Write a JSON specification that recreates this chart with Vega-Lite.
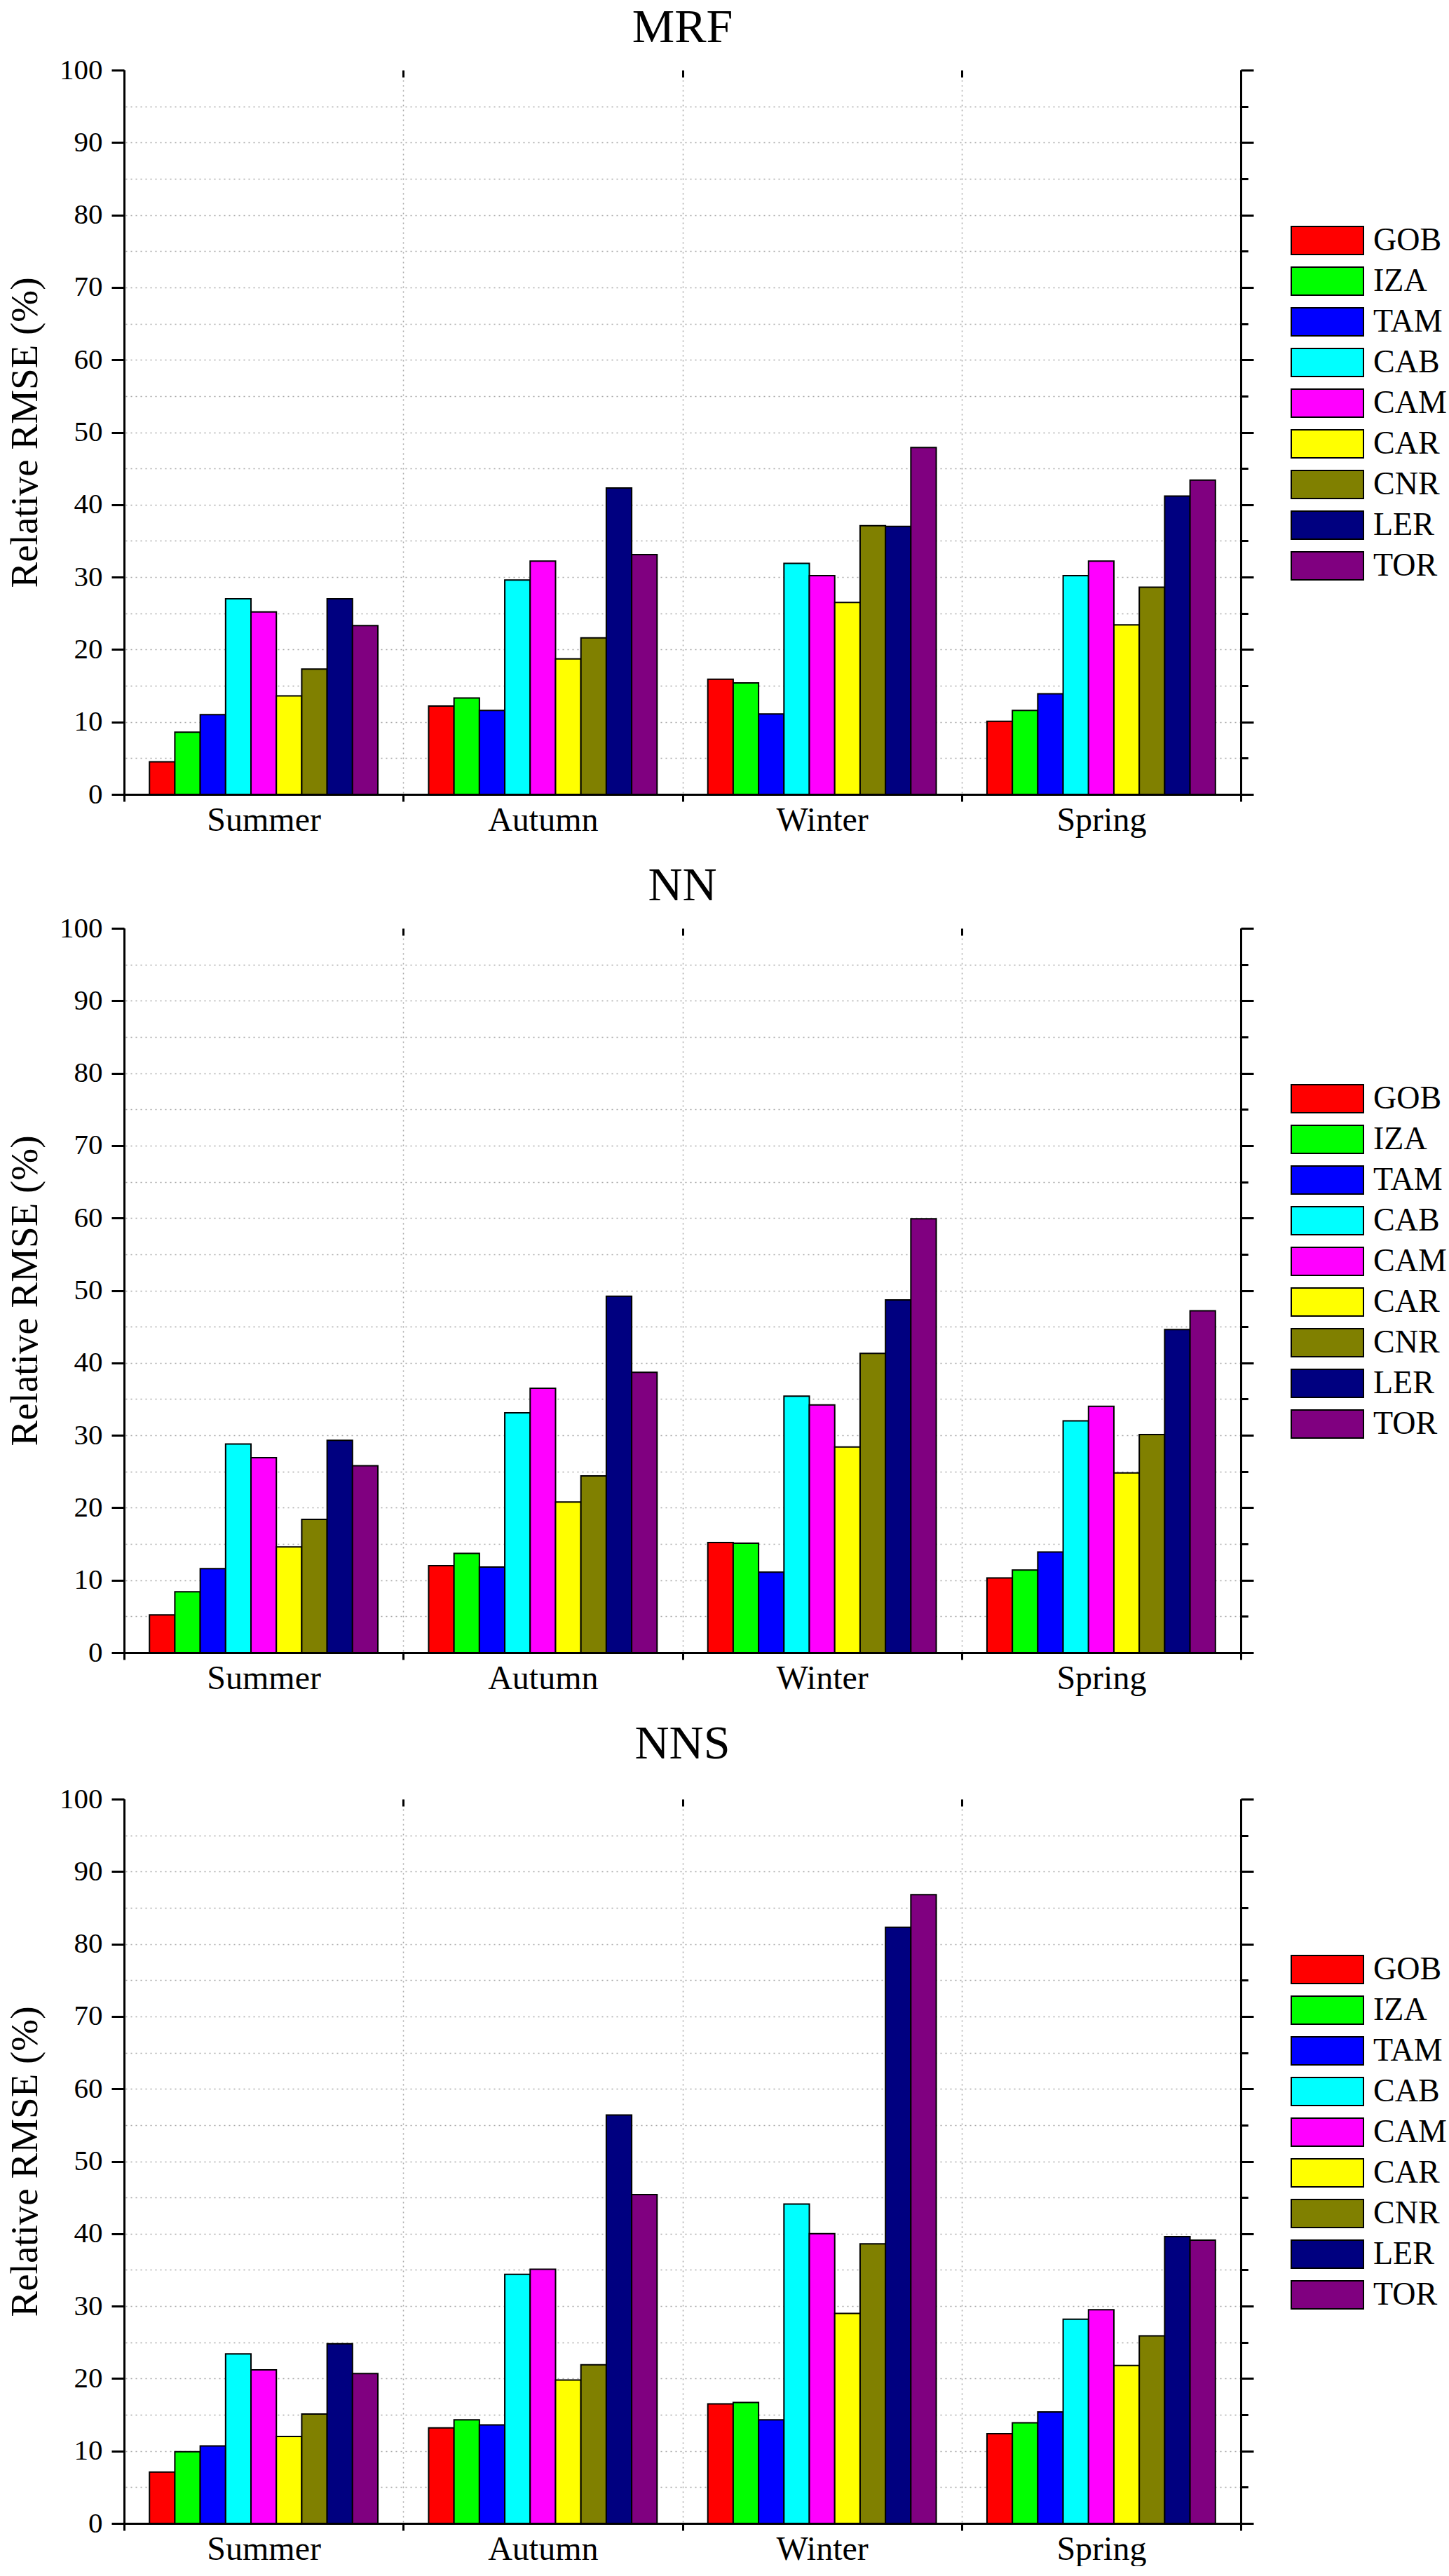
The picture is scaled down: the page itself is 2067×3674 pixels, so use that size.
{
  "$schema": "https://vega.github.io/schema/vega-lite/v6.json",
  "description": "Relative RMSE per station and season for the MRF, NN and NNS models.",
  "padding": {"left": 8, "top": 6, "right": 0, "bottom": 0},
  "background": "white",
  "data": {
    "values": [
      {"method": "MRF", "season": "Summer", "station": "GOB", "value": 4.5},
      {"method": "MRF", "season": "Summer", "station": "IZA", "value": 8.6},
      {"method": "MRF", "season": "Summer", "station": "TAM", "value": 11.0},
      {"method": "MRF", "season": "Summer", "station": "CAB", "value": 27.0},
      {"method": "MRF", "season": "Summer", "station": "CAM", "value": 25.2},
      {"method": "MRF", "season": "Summer", "station": "CAR", "value": 13.6},
      {"method": "MRF", "season": "Summer", "station": "CNR", "value": 17.3},
      {"method": "MRF", "season": "Summer", "station": "LER", "value": 27.0},
      {"method": "MRF", "season": "Summer", "station": "TOR", "value": 23.3},
      {"method": "MRF", "season": "Autumn", "station": "GOB", "value": 12.2},
      {"method": "MRF", "season": "Autumn", "station": "IZA", "value": 13.3},
      {"method": "MRF", "season": "Autumn", "station": "TAM", "value": 11.6},
      {"method": "MRF", "season": "Autumn", "station": "CAB", "value": 29.6},
      {"method": "MRF", "season": "Autumn", "station": "CAM", "value": 32.2},
      {"method": "MRF", "season": "Autumn", "station": "CAR", "value": 18.7},
      {"method": "MRF", "season": "Autumn", "station": "CNR", "value": 21.6},
      {"method": "MRF", "season": "Autumn", "station": "LER", "value": 42.3},
      {"method": "MRF", "season": "Autumn", "station": "TOR", "value": 33.1},
      {"method": "MRF", "season": "Winter", "station": "GOB", "value": 15.9},
      {"method": "MRF", "season": "Winter", "station": "IZA", "value": 15.4},
      {"method": "MRF", "season": "Winter", "station": "TAM", "value": 11.1},
      {"method": "MRF", "season": "Winter", "station": "CAB", "value": 31.9},
      {"method": "MRF", "season": "Winter", "station": "CAM", "value": 30.2},
      {"method": "MRF", "season": "Winter", "station": "CAR", "value": 26.5},
      {"method": "MRF", "season": "Winter", "station": "CNR", "value": 37.1},
      {"method": "MRF", "season": "Winter", "station": "LER", "value": 37.0},
      {"method": "MRF", "season": "Winter", "station": "TOR", "value": 47.9},
      {"method": "MRF", "season": "Spring", "station": "GOB", "value": 10.1},
      {"method": "MRF", "season": "Spring", "station": "IZA", "value": 11.6},
      {"method": "MRF", "season": "Spring", "station": "TAM", "value": 13.9},
      {"method": "MRF", "season": "Spring", "station": "CAB", "value": 30.2},
      {"method": "MRF", "season": "Spring", "station": "CAM", "value": 32.2},
      {"method": "MRF", "season": "Spring", "station": "CAR", "value": 23.4},
      {"method": "MRF", "season": "Spring", "station": "CNR", "value": 28.6},
      {"method": "MRF", "season": "Spring", "station": "LER", "value": 41.2},
      {"method": "MRF", "season": "Spring", "station": "TOR", "value": 43.4},
      {"method": "NN", "season": "Summer", "station": "GOB", "value": 5.2},
      {"method": "NN", "season": "Summer", "station": "IZA", "value": 8.4},
      {"method": "NN", "season": "Summer", "station": "TAM", "value": 11.6},
      {"method": "NN", "season": "Summer", "station": "CAB", "value": 28.8},
      {"method": "NN", "season": "Summer", "station": "CAM", "value": 26.9},
      {"method": "NN", "season": "Summer", "station": "CAR", "value": 14.6},
      {"method": "NN", "season": "Summer", "station": "CNR", "value": 18.4},
      {"method": "NN", "season": "Summer", "station": "LER", "value": 29.3},
      {"method": "NN", "season": "Summer", "station": "TOR", "value": 25.8},
      {"method": "NN", "season": "Autumn", "station": "GOB", "value": 12.0},
      {"method": "NN", "season": "Autumn", "station": "IZA", "value": 13.7},
      {"method": "NN", "season": "Autumn", "station": "TAM", "value": 11.8},
      {"method": "NN", "season": "Autumn", "station": "CAB", "value": 33.1},
      {"method": "NN", "season": "Autumn", "station": "CAM", "value": 36.5},
      {"method": "NN", "season": "Autumn", "station": "CAR", "value": 20.8},
      {"method": "NN", "season": "Autumn", "station": "CNR", "value": 24.4},
      {"method": "NN", "season": "Autumn", "station": "LER", "value": 49.2},
      {"method": "NN", "season": "Autumn", "station": "TOR", "value": 38.7},
      {"method": "NN", "season": "Winter", "station": "GOB", "value": 15.2},
      {"method": "NN", "season": "Winter", "station": "IZA", "value": 15.1},
      {"method": "NN", "season": "Winter", "station": "TAM", "value": 11.1},
      {"method": "NN", "season": "Winter", "station": "CAB", "value": 35.4},
      {"method": "NN", "season": "Winter", "station": "CAM", "value": 34.2},
      {"method": "NN", "season": "Winter", "station": "CAR", "value": 28.4},
      {"method": "NN", "season": "Winter", "station": "CNR", "value": 41.3},
      {"method": "NN", "season": "Winter", "station": "LER", "value": 48.7},
      {"method": "NN", "season": "Winter", "station": "TOR", "value": 59.9},
      {"method": "NN", "season": "Spring", "station": "GOB", "value": 10.3},
      {"method": "NN", "season": "Spring", "station": "IZA", "value": 11.4},
      {"method": "NN", "season": "Spring", "station": "TAM", "value": 13.9},
      {"method": "NN", "season": "Spring", "station": "CAB", "value": 32.0},
      {"method": "NN", "season": "Spring", "station": "CAM", "value": 34.0},
      {"method": "NN", "season": "Spring", "station": "CAR", "value": 24.8},
      {"method": "NN", "season": "Spring", "station": "CNR", "value": 30.1},
      {"method": "NN", "season": "Spring", "station": "LER", "value": 44.6},
      {"method": "NN", "season": "Spring", "station": "TOR", "value": 47.2},
      {"method": "NNS", "season": "Summer", "station": "GOB", "value": 7.1},
      {"method": "NNS", "season": "Summer", "station": "IZA", "value": 9.9},
      {"method": "NNS", "season": "Summer", "station": "TAM", "value": 10.7},
      {"method": "NNS", "season": "Summer", "station": "CAB", "value": 23.4},
      {"method": "NNS", "season": "Summer", "station": "CAM", "value": 21.2},
      {"method": "NNS", "season": "Summer", "station": "CAR", "value": 12.0},
      {"method": "NNS", "season": "Summer", "station": "CNR", "value": 15.1},
      {"method": "NNS", "season": "Summer", "station": "LER", "value": 24.8},
      {"method": "NNS", "season": "Summer", "station": "TOR", "value": 20.7},
      {"method": "NNS", "season": "Autumn", "station": "GOB", "value": 13.2},
      {"method": "NNS", "season": "Autumn", "station": "IZA", "value": 14.3},
      {"method": "NNS", "season": "Autumn", "station": "TAM", "value": 13.6},
      {"method": "NNS", "season": "Autumn", "station": "CAB", "value": 34.4},
      {"method": "NNS", "season": "Autumn", "station": "CAM", "value": 35.1},
      {"method": "NNS", "season": "Autumn", "station": "CAR", "value": 19.8},
      {"method": "NNS", "season": "Autumn", "station": "CNR", "value": 21.9},
      {"method": "NNS", "season": "Autumn", "station": "LER", "value": 56.4},
      {"method": "NNS", "season": "Autumn", "station": "TOR", "value": 45.4},
      {"method": "NNS", "season": "Winter", "station": "GOB", "value": 16.5},
      {"method": "NNS", "season": "Winter", "station": "IZA", "value": 16.7},
      {"method": "NNS", "season": "Winter", "station": "TAM", "value": 14.3},
      {"method": "NNS", "season": "Winter", "station": "CAB", "value": 44.1},
      {"method": "NNS", "season": "Winter", "station": "CAM", "value": 40.0},
      {"method": "NNS", "season": "Winter", "station": "CAR", "value": 29.0},
      {"method": "NNS", "season": "Winter", "station": "CNR", "value": 38.6},
      {"method": "NNS", "season": "Winter", "station": "LER", "value": 82.3},
      {"method": "NNS", "season": "Winter", "station": "TOR", "value": 86.8},
      {"method": "NNS", "season": "Spring", "station": "GOB", "value": 12.4},
      {"method": "NNS", "season": "Spring", "station": "IZA", "value": 13.9},
      {"method": "NNS", "season": "Spring", "station": "TAM", "value": 15.4},
      {"method": "NNS", "season": "Spring", "station": "CAB", "value": 28.2},
      {"method": "NNS", "season": "Spring", "station": "CAM", "value": 29.5},
      {"method": "NNS", "season": "Spring", "station": "CAR", "value": 21.8},
      {"method": "NNS", "season": "Spring", "station": "CNR", "value": 25.9},
      {"method": "NNS", "season": "Spring", "station": "LER", "value": 39.6},
      {"method": "NNS", "season": "Spring", "station": "TOR", "value": 39.1}
    ]
  },
  "spacing": 36,
  "resolve": {"scale": {"color": "independent"}, "legend": {"color": "independent"}},
  "vconcat": [
    {
      "title": {"text": "MRF", "offset": 5},
      "width": 1593,
      "height": 1033,
      "transform": [{"filter": "datum.method === 'MRF'"}],
      "resolve": {"axis": {"x": "independent", "y": "independent"}},
      "layer": [
        {
          "mark": {"type": "bar", "stroke": "black", "strokeWidth": 2},
          "encoding": {
            "x": {"field": "season", "type": "nominal", "sort": ["Summer", "Autumn", "Winter", "Spring"],
                  "scale": {"paddingInner": 0, "paddingOuter": 0},
                  "axis": {"title": null, "tickBand": "extent", "tickSize": 10, "labelAngle": 0, "labelFont": "Liberation Serif", "labelFontSize": 48, "labelPadding": 3, "grid": true, "gridDash": [2, 5], "gridColor": "#a8a8a8", "gridWidth": 1.5}},
            "xOffset": {"field": "station", "type": "nominal", "sort": ["GOB", "IZA", "TAM", "CAB", "CAM", "CAR", "CNR", "LER", "TOR"],
                        "scale": {"paddingInner": 0, "paddingOuter": 1.125}},
            "y": {"field": "value", "type": "quantitative", "scale": {"domain": [0, 100], "nice": false},
                  "axis": {"title": "Relative RMSE (%)", "values": [0, 10, 20, 30, 40, 50, 60, 70, 80, 90, 100], "tickSize": 18, "labelFont": "Liberation Serif", "labelFontSize": 41, "labelPadding": 13, "titleFont": "Liberation Serif", "titleFontSize": 55, "titlePadding": 20, "grid": false}},
            "color": {"field": "station", "type": "nominal",
                      "scale": {"domain": ["GOB", "IZA", "TAM", "CAB", "CAM", "CAR", "CNR", "LER", "TOR"],
                                "range": ["#ff0000", "#00ff00", "#0000ff", "#00ffff", "#ff00ff", "#ffff00", "#808000", "#000080", "#800080"]},
                      "legend": {"labelFont": "Liberation Serif"}}
          }
        },
        {
          "mark": {"type": "rule", "opacity": 0},
          "encoding": {
            "y": {"field": "value", "type": "quantitative", "scale": {"domain": [0, 100], "nice": false},
                  "axis": {"title": null, "values": [5, 10, 15, 20, 25, 30, 35, 40, 45, 50, 55, 60, 65, 70, 75, 80, 85, 90, 95], "tickSize": 10, "labels": false, "domain": false, "grid": true, "gridDash": [2, 5], "gridColor": "#a8a8a8", "gridWidth": 1.5}}
          }
        },
        {
          "mark": {"type": "rule", "opacity": 0},
          "encoding": {
            "y": {"field": "value", "type": "quantitative", "scale": {"domain": [0, 100], "nice": false},
                  "axis": {"orient": "right", "title": null, "values": [0, 10, 20, 30, 40, 50, 60, 70, 80, 90, 100], "tickSize": 18, "labels": false, "grid": false}}
          }
        },
        {
          "mark": {"type": "rule", "opacity": 0},
          "encoding": {
            "y": {"field": "value", "type": "quantitative", "scale": {"domain": [0, 100], "nice": false},
                  "axis": {"orient": "right", "title": null, "values": [5, 15, 25, 35, 45, 55, 65, 75, 85, 95], "tickSize": 10, "labels": false, "domain": false, "grid": false}}
          }
        },
        {
          "mark": {"type": "rule", "opacity": 0},
          "encoding": {
            "x": {"field": "season", "type": "nominal", "sort": ["Summer", "Autumn", "Winter", "Spring"],
                  "scale": {"paddingInner": 0, "paddingOuter": 0},
                  "axis": {"title": null, "tickBand": "extent", "tickSize": -10, "labels": false, "domain": false, "grid": false}}
          }
        }
      ]
    },
    {
      "title": {"text": "NN", "offset": 5},
      "width": 1593,
      "height": 1033,
      "transform": [{"filter": "datum.method === 'NN'"}],
      "resolve": {"axis": {"x": "independent", "y": "independent"}},
      "layer": [
        {
          "mark": {"type": "bar", "stroke": "black", "strokeWidth": 2},
          "encoding": {
            "x": {"field": "season", "type": "nominal", "sort": ["Summer", "Autumn", "Winter", "Spring"],
                  "scale": {"paddingInner": 0, "paddingOuter": 0},
                  "axis": {"title": null, "tickBand": "extent", "tickSize": 10, "labelAngle": 0, "labelFont": "Liberation Serif", "labelFontSize": 48, "labelPadding": 3, "grid": true, "gridDash": [2, 5], "gridColor": "#a8a8a8", "gridWidth": 1.5}},
            "xOffset": {"field": "station", "type": "nominal", "sort": ["GOB", "IZA", "TAM", "CAB", "CAM", "CAR", "CNR", "LER", "TOR"],
                        "scale": {"paddingInner": 0, "paddingOuter": 1.125}},
            "y": {"field": "value", "type": "quantitative", "scale": {"domain": [0, 100], "nice": false},
                  "axis": {"title": "Relative RMSE (%)", "values": [0, 10, 20, 30, 40, 50, 60, 70, 80, 90, 100], "tickSize": 18, "labelFont": "Liberation Serif", "labelFontSize": 41, "labelPadding": 13, "titleFont": "Liberation Serif", "titleFontSize": 55, "titlePadding": 20, "grid": false}},
            "color": {"field": "station", "type": "nominal",
                      "scale": {"domain": ["GOB", "IZA", "TAM", "CAB", "CAM", "CAR", "CNR", "LER", "TOR"],
                                "range": ["#ff0000", "#00ff00", "#0000ff", "#00ffff", "#ff00ff", "#ffff00", "#808000", "#000080", "#800080"]},
                      "legend": {"labelFont": "Liberation Serif"}}
          }
        },
        {
          "mark": {"type": "rule", "opacity": 0},
          "encoding": {
            "y": {"field": "value", "type": "quantitative", "scale": {"domain": [0, 100], "nice": false},
                  "axis": {"title": null, "values": [5, 10, 15, 20, 25, 30, 35, 40, 45, 50, 55, 60, 65, 70, 75, 80, 85, 90, 95], "tickSize": 10, "labels": false, "domain": false, "grid": true, "gridDash": [2, 5], "gridColor": "#a8a8a8", "gridWidth": 1.5}}
          }
        },
        {
          "mark": {"type": "rule", "opacity": 0},
          "encoding": {
            "y": {"field": "value", "type": "quantitative", "scale": {"domain": [0, 100], "nice": false},
                  "axis": {"orient": "right", "title": null, "values": [0, 10, 20, 30, 40, 50, 60, 70, 80, 90, 100], "tickSize": 18, "labels": false, "grid": false}}
          }
        },
        {
          "mark": {"type": "rule", "opacity": 0},
          "encoding": {
            "y": {"field": "value", "type": "quantitative", "scale": {"domain": [0, 100], "nice": false},
                  "axis": {"orient": "right", "title": null, "values": [5, 15, 25, 35, 45, 55, 65, 75, 85, 95], "tickSize": 10, "labels": false, "domain": false, "grid": false}}
          }
        },
        {
          "mark": {"type": "rule", "opacity": 0},
          "encoding": {
            "x": {"field": "season", "type": "nominal", "sort": ["Summer", "Autumn", "Winter", "Spring"],
                  "scale": {"paddingInner": 0, "paddingOuter": 0},
                  "axis": {"title": null, "tickBand": "extent", "tickSize": -10, "labels": false, "domain": false, "grid": false}}
          }
        }
      ]
    },
    {
      "title": {"text": "NNS", "offset": 23},
      "width": 1593,
      "height": 1033,
      "transform": [{"filter": "datum.method === 'NNS'"}],
      "resolve": {"axis": {"x": "independent", "y": "independent"}},
      "layer": [
        {
          "mark": {"type": "bar", "stroke": "black", "strokeWidth": 2},
          "encoding": {
            "x": {"field": "season", "type": "nominal", "sort": ["Summer", "Autumn", "Winter", "Spring"],
                  "scale": {"paddingInner": 0, "paddingOuter": 0},
                  "axis": {"title": null, "tickBand": "extent", "tickSize": 10, "labelAngle": 0, "labelFont": "Liberation Serif", "labelFontSize": 48, "labelPadding": 3, "grid": true, "gridDash": [2, 5], "gridColor": "#a8a8a8", "gridWidth": 1.5}},
            "xOffset": {"field": "station", "type": "nominal", "sort": ["GOB", "IZA", "TAM", "CAB", "CAM", "CAR", "CNR", "LER", "TOR"],
                        "scale": {"paddingInner": 0, "paddingOuter": 1.125}},
            "y": {"field": "value", "type": "quantitative", "scale": {"domain": [0, 100], "nice": false},
                  "axis": {"title": "Relative RMSE (%)", "values": [0, 10, 20, 30, 40, 50, 60, 70, 80, 90, 100], "tickSize": 18, "labelFont": "Liberation Serif", "labelFontSize": 41, "labelPadding": 13, "titleFont": "Liberation Serif", "titleFontSize": 55, "titlePadding": 20, "grid": false}},
            "color": {"field": "station", "type": "nominal",
                      "scale": {"domain": ["GOB", "IZA", "TAM", "CAB", "CAM", "CAR", "CNR", "LER", "TOR"],
                                "range": ["#ff0000", "#00ff00", "#0000ff", "#00ffff", "#ff00ff", "#ffff00", "#808000", "#000080", "#800080"]},
                      "legend": {"labelFont": "Liberation Serif"}}
          }
        },
        {
          "mark": {"type": "rule", "opacity": 0},
          "encoding": {
            "y": {"field": "value", "type": "quantitative", "scale": {"domain": [0, 100], "nice": false},
                  "axis": {"title": null, "values": [5, 10, 15, 20, 25, 30, 35, 40, 45, 50, 55, 60, 65, 70, 75, 80, 85, 90, 95], "tickSize": 10, "labels": false, "domain": false, "grid": true, "gridDash": [2, 5], "gridColor": "#a8a8a8", "gridWidth": 1.5}}
          }
        },
        {
          "mark": {"type": "rule", "opacity": 0},
          "encoding": {
            "y": {"field": "value", "type": "quantitative", "scale": {"domain": [0, 100], "nice": false},
                  "axis": {"orient": "right", "title": null, "values": [0, 10, 20, 30, 40, 50, 60, 70, 80, 90, 100], "tickSize": 18, "labels": false, "grid": false}}
          }
        },
        {
          "mark": {"type": "rule", "opacity": 0},
          "encoding": {
            "y": {"field": "value", "type": "quantitative", "scale": {"domain": [0, 100], "nice": false},
                  "axis": {"orient": "right", "title": null, "values": [5, 15, 25, 35, 45, 55, 65, 75, 85, 95], "tickSize": 10, "labels": false, "domain": false, "grid": false}}
          }
        },
        {
          "mark": {"type": "rule", "opacity": 0},
          "encoding": {
            "x": {"field": "season", "type": "nominal", "sort": ["Summer", "Autumn", "Winter", "Spring"],
                  "scale": {"paddingInner": 0, "paddingOuter": 0},
                  "axis": {"title": null, "tickBand": "extent", "tickSize": -10, "labels": false, "domain": false, "grid": false}}
          }
        }
      ]
    }
  ],
  "config": {
    "font": "Liberation Serif",
    "view": {"stroke": null},
    "style": {
      "guide-label": {"font": "Liberation Serif"},
      "guide-title": {"font": "Liberation Serif"},
      "group-title": {"font": "Liberation Serif"}
    },
    "title": {"font": "Liberation Serif", "fontSize": 68, "fontWeight": "normal", "color": "black", "anchor": "middle", "frame": "group"},
    "axis": {
      "labelFont": "Liberation Serif", "titleFont": "Liberation Serif", "titleFontWeight": "normal",
      "labelColor": "black", "titleColor": "black",
      "domainColor": "black", "domainWidth": 3, "tickColor": "black", "tickWidth": 3
    },
    "legend": {
      "orient": "none", "legendX": 1664, "legendY": 218, "title": null, "padding": 0,
      "labelFont": "Liberation Serif", "labelFontSize": 46, "labelColor": "black", "labelOffset": 13,
      "symbolType": "M-1,-0.39H1V0.39H-1Z", "symbolSize": 10609,
      "symbolStrokeColor": "black", "symbolStrokeWidth": 2, "symbolOpacity": 1,
      "clipHeight": 50, "rowPadding": 8
    }
  }
}
